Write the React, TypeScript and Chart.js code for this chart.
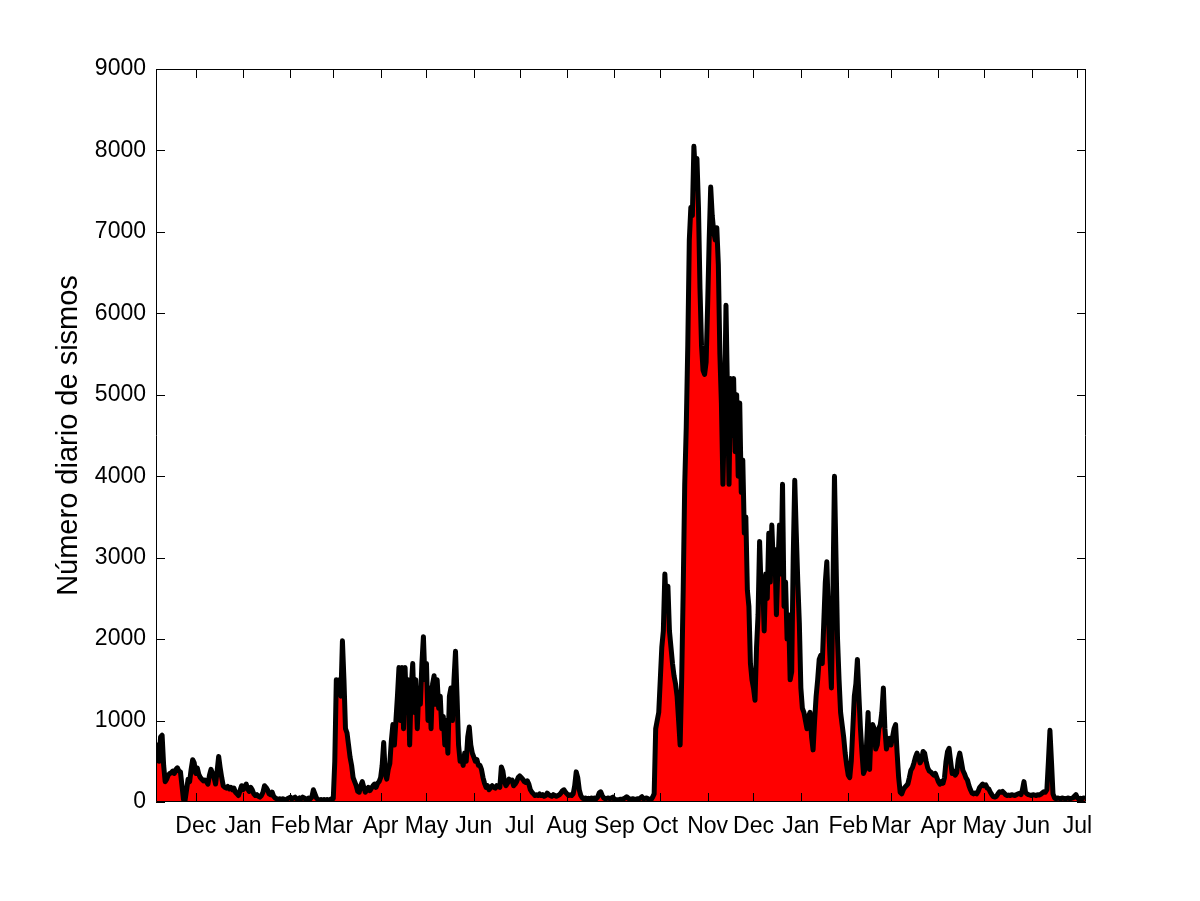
import React, { useEffect, useRef } from "react";
import { Chart, registerables } from "chart.js";

Chart.register(...registerables);

// Month tick labels and their day index (day 0 = 5 Nov)
const monthLabels = ["Dec", "Jan", "Feb", "Mar", "Apr", "May", "Jun", "Jul", "Aug", "Sep", "Oct", "Nov", "Dec", "Jan", "Feb", "Mar", "Apr", "May", "Jun", "Jul"];
const monthTickDays = [26, 57, 88, 116, 147, 177, 208, 238, 269, 300, 330, 361, 391, 422, 453, 481, 512, 542, 573, 603];
const yTicks = [0, 1000, 2000, 3000, 4000, 5000, 6000, 7000, 8000, 9000];

// Daily number of earthquakes, month by month
const novA = [600, 700, 500, 800, 820, 450, 250, 280, 330, 350, 360, 380, 350, 400, 420, 380, 370, 200, 30, 20, 150, 280, 250, 400, 520, 480];
const decA = [350, 420, 340, 300, 280, 260, 270, 250, 220, 330, 400, 350, 300, 220, 380, 560, 420, 300, 200, 180, 170, 190, 160, 180, 150, 170, 120, 100, 80, 140, 200];
const janA = [150, 180, 220, 160, 130, 180, 150, 100, 80, 90, 70, 60, 80, 120, 200, 180, 150, 100, 90, 120, 70, 50, 40, 30, 40, 30, 40, 30, 20, 40, 50];
const febA = [60, 40, 50, 60, 40, 30, 50, 40, 60, 50, 30, 40, 50, 40, 60, 150, 100, 50, 30, 20, 30, 20, 30, 20, 30, 20, 30, 40];
const marA = [40, 500, 1500, 1400, 1500, 1300, 1980, 1500, 900, 850, 700, 550, 450, 300, 250, 200, 130, 120, 200, 250, 180, 120, 150, 180, 140, 170, 200, 220, 180, 230, 250];
const aprA = [300, 450, 730, 350, 280, 400, 470, 750, 950, 700, 1000, 1300, 1650, 1000, 1650, 900, 1650, 1100, 1500, 700, 1400, 1700, 1100, 1500, 900, 1400, 1200, 1700, 2030, 1500];
const mayA = [1700, 1000, 1400, 900, 1450, 1550, 1200, 1500, 1150, 1300, 900, 1050, 700, 1000, 600, 1300, 1400, 1000, 1500, 1850, 1300, 700, 500, 550, 450, 600, 500, 800, 920, 700, 600];
const junA = [550, 500, 520, 450, 450, 400, 300, 230, 180, 200, 150, 180, 200, 180, 170, 200, 190, 180, 430, 380, 250, 200, 230, 280, 260, 270, 200, 220, 250, 300];
const julA = [320, 300, 280, 250, 240, 260, 220, 150, 120, 100, 80, 90, 80, 100, 80, 90, 70, 80, 110, 90, 80, 70, 90, 80, 70, 80, 90, 110, 140, 150, 120];
const augA = [100, 80, 90, 80, 100, 200, 370, 300, 150, 80, 50, 40, 50, 40, 45, 40, 50, 40, 50, 40, 60, 110, 125, 80, 50, 40, 45, 50, 40, 50, 60];
const sepA = [30, 30, 25, 30, 35, 30, 40, 50, 65, 50, 30, 35, 40, 35, 30, 40, 35, 50, 65, 40, 45, 50, 40, 25, 30, 60, 100, 900, 1000, 1100];
const octA = [1500, 1900, 2100, 2800, 2400, 2650, 2100, 1900, 1700, 1550, 1450, 1300, 1000, 700, 1500, 2600, 3900, 4600, 5600, 6900, 7300, 7200, 8050, 7700, 7900, 7300, 6300, 5600, 5300, 5250, 5400];
const novB = [6100, 6900, 7550, 7200, 7000, 6900, 7050, 6600, 5500, 4900, 3900, 4800, 6100, 5000, 3900, 5200, 4500, 5200, 4300, 5000, 4000, 4900, 3800, 4200, 3300, 3500, 2600, 2400, 1700, 1500];
const decB = [1400, 1250, 1900, 2300, 3200, 2600, 2700, 2100, 2800, 2500, 3300, 2700, 3400, 2900, 3100, 2300, 2900, 3400, 2800, 3900, 2400, 2700, 2000, 2300, 1500, 1600, 3000, 3950, 3300, 2700, 2200];
const janB = [1400, 1150, 1100, 1000, 900, 1050, 1100, 800, 640, 1000, 1300, 1500, 1750, 1800, 1700, 2200, 2700, 2950, 2300, 1800, 1400, 2600, 4000, 3000, 2000, 1500, 1100, 950, 800, 600, 450];
const febB = [330, 300, 500, 900, 1300, 1450, 1750, 1300, 900, 600, 350, 400, 700, 1100, 400, 900, 950, 900, 650, 700, 900, 950, 1100, 1400, 900, 650, 750, 780];
const marB = [700, 800, 900, 950, 600, 300, 120, 100, 150, 180, 200, 220, 300, 390, 420, 480, 550, 600, 550, 480, 520, 620, 600, 500, 420, 380, 370, 350, 330, 350, 300];
const aprB = [250, 220, 250, 230, 300, 500, 620, 660, 500, 350, 380, 330, 360, 520, 600, 500, 390, 350, 300, 270, 200, 150, 110, 100, 110, 100, 130, 180, 200, 220];
const mayB = [200, 210, 170, 160, 120, 90, 65, 60, 70, 100, 125, 120, 130, 110, 90, 80, 85, 80, 90, 85, 80, 90, 100, 105, 90, 150, 250, 120, 100, 90, 85];
const junB = [80, 90, 85, 80, 90, 85, 95, 110, 125, 120, 150, 500, 880, 500, 100, 50, 40, 50, 45, 40, 50, 45, 40, 45, 50, 40, 45, 50, 70, 90];
const julB = [50, 40, 45, 40, 50, 45];

const dailyCounts = [
  ...novA, ...decA, ...janA, ...febA, ...marA, ...aprA, ...mayA, ...junA, ...julA, ...augA, ...sepA,
  ...octA, ...novB, ...decB, ...janB, ...febB, ...marB, ...aprB, ...mayB, ...junB, ...julB,
];

const FONT = "'Liberation Sans', Arial, Helvetica, sans-serif";

const framePlugin = {
  id: "matlabFrame",
  afterDatasetsDraw(chart: any) {
    const { ctx, chartArea, scales } = chart;
    const { left, right, top, bottom } = chartArea;
    const tick = 9;
    ctx.save();
    ctx.strokeStyle = "#000";
    ctx.lineWidth = 1;
    ctx.beginPath();
    ctx.rect(left + 0.5, top + 0.5, right - left - 1, bottom - top - 1);
    for (const v of monthTickDays) {
      const px = Math.round(scales.x.getPixelForValue(v)) + 0.5;
      ctx.moveTo(px, bottom);
      ctx.lineTo(px, bottom - tick);
      ctx.moveTo(px, top);
      ctx.lineTo(px, top + tick);
    }
    for (const v of yTicks) {
      const py = Math.round(scales.y.getPixelForValue(v)) + 0.5;
      ctx.moveTo(left, py);
      ctx.lineTo(left + tick, py);
      ctx.moveTo(right, py);
      ctx.lineTo(right - tick, py);
    }
    ctx.stroke();
    ctx.restore();
  },
};

export default function App() {
  const canvasRef = useRef<HTMLCanvasElement | null>(null);

  useEffect(() => {
    if (!canvasRef.current) return;
    const chart = new Chart(canvasRef.current, {
      type: "line",
      data: {
        datasets: [
          {
            data: dailyCounts.map((v, i) => ({ x: i, y: v })),
            borderColor: "#000000",
            backgroundColor: "#ff0000",
            borderWidth: 5,
            borderJoinStyle: "round",
            pointRadius: 0,
            tension: 0,
            fill: "origin",
          },
        ],
      },
      options: {
        responsive: false,
        animation: false,
        devicePixelRatio: 1,
        layout: { padding: { top: 69, right: 114, bottom: 0, left: 0 } },
        plugins: { legend: { display: false }, tooltip: { enabled: false } },
        scales: {
          x: {
            type: "linear",
            min: 0,
            max: 608.6,
            grid: { display: false, drawTicks: false },
            border: { display: false },
            afterBuildTicks: (scale: any) => {
              scale.ticks = monthTickDays.map((v) => ({ value: v }));
            },
            afterFit: (scale: any) => {
              scale.height = 99;
            },
            ticks: {
              autoSkip: false,
              maxRotation: 0,
              minRotation: 0,
              padding: 11,
              color: "#000",
              font: { family: FONT, size: 23 },
              callback: (value: any) => monthLabels[monthTickDays.indexOf(Number(value))],
            },
          },
          y: {
            min: 0,
            max: 9000,
            grid: { display: false, drawTicks: false },
            border: { display: false },
            afterBuildTicks: (scale: any) => {
              scale.ticks = yTicks.map((v) => ({ value: v }));
            },
            afterFit: (scale: any) => {
              scale.width = 156;
            },
            ticks: {
              padding: 10,
              color: "#000",
              font: { family: FONT, size: 23 },
              callback: (value: any) => String(value),
            },
            title: {
              display: true,
              text: "Número diario de sismos",
              color: "#000",
              font: { family: FONT, size: 29 },
              padding: { top: 52, bottom: 0 },
            },
          },
        },
      },
      plugins: [framePlugin],
    });
    return () => chart.destroy();
  }, []);

  return (
    <div style={{ position: "absolute", left: 0, top: 0, width: 1200, height: 901, background: "#fff" }}>
      <canvas ref={canvasRef} width={1200} height={901} />
    </div>
  );
}
